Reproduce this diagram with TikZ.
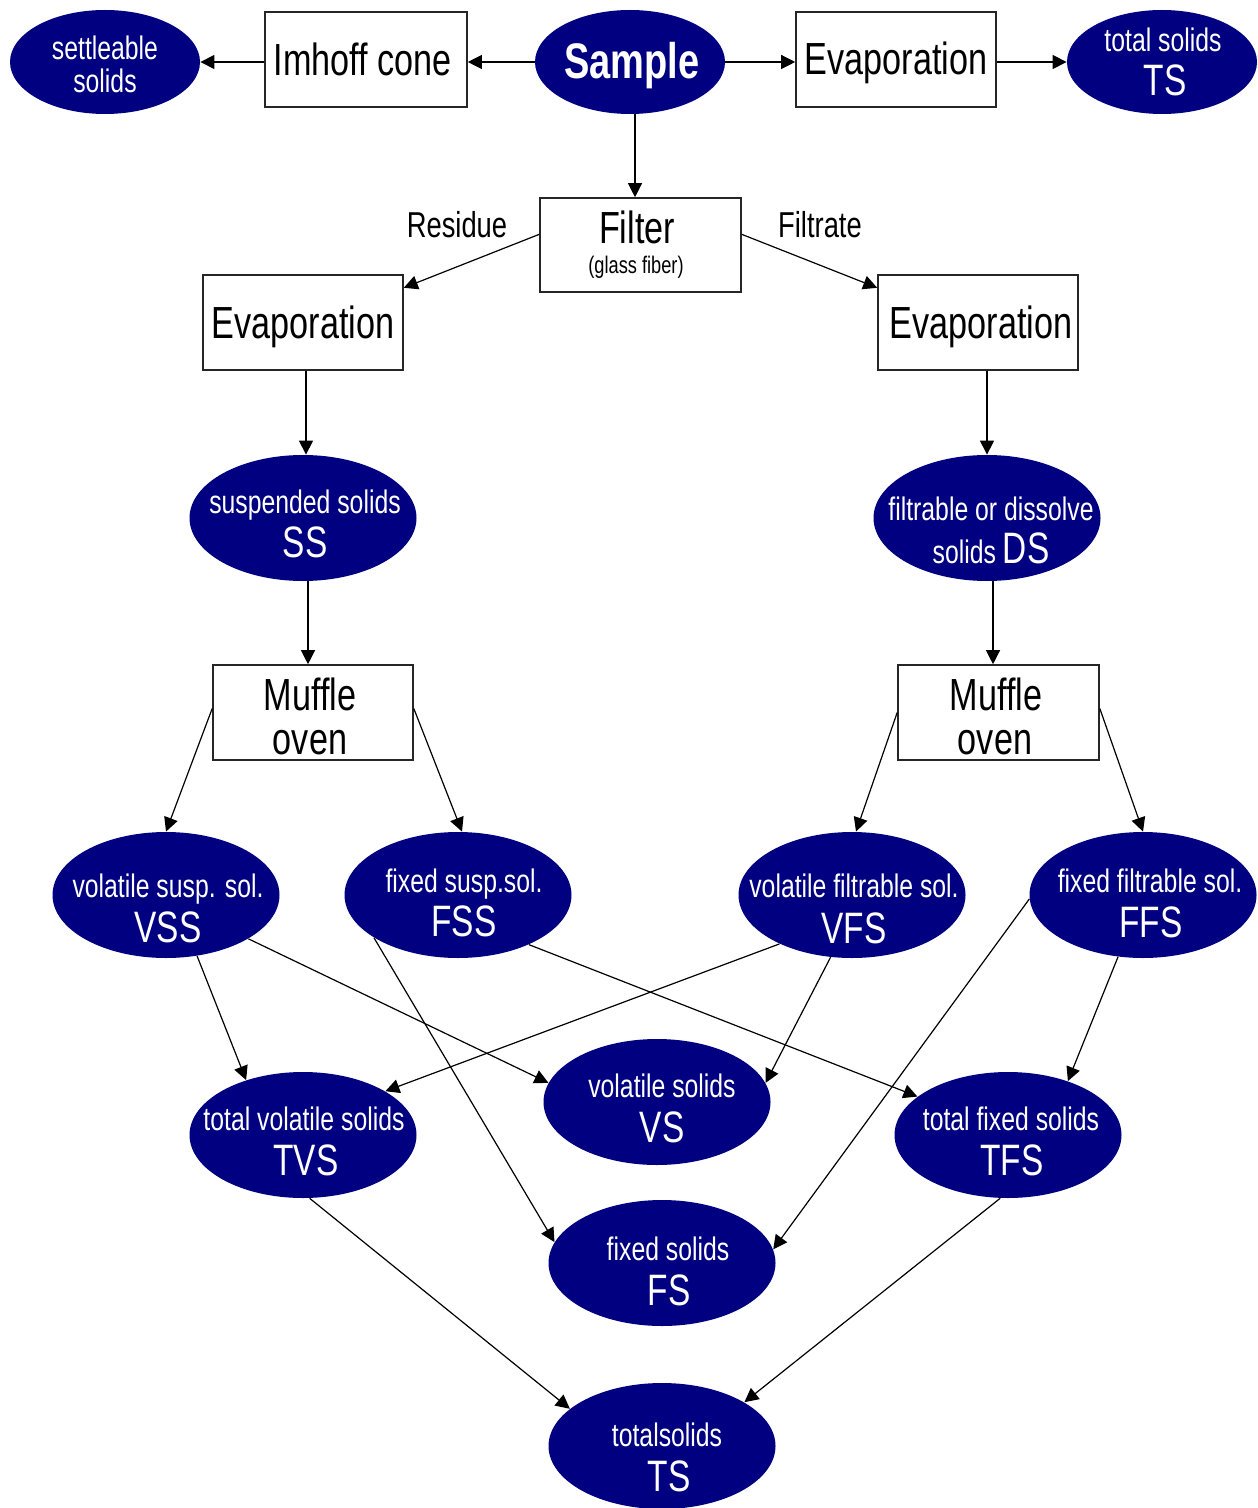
\documentclass[tikz,border=0pt]{standalone}
\usepackage{fontspec}
\setmainfont{Liberation Sans}[FakeStretch=0.76]
\usetikzlibrary{shapes.geometric,arrows.meta}
\definecolor{navyc}{RGB}{0,0,128}
\begin{document}
\begin{tikzpicture}[x=0.5pt,y=-0.5pt,
  ell/.style={ellipse, fill=navyc, draw=none, inner sep=0pt, minimum width=113.5pt, minimum height=63pt},
  sell/.style={ellipse, fill=navyc, draw=none, inner sep=0pt, minimum width=95pt, minimum height=52pt},
  boxnode/.style={rectangle, draw=black!85, line width=0.8pt, fill=white, inner sep=0pt, minimum width=100pt, minimum height=47.5pt},
  etsm/.style={anchor=base, inner sep=0pt, text=white, font=\fontsize{16.3}{18}\selectfont},
  etbg/.style={anchor=base, inner sep=0pt, text=white, font=\fontsize{22}{24}\selectfont},
  btxt/.style={anchor=base, inner sep=0pt, text=black, font=\fontsize{22.5}{25}\selectfont},
  side/.style={anchor=base, inner sep=0pt, text=black, font=\fontsize{18}{20}\selectfont},
  arr/.style={-{Triangle[length=7pt,width=7pt]}, line width=0.6pt, black},
]
\useasboundingbox (0,0) rectangle (1257,1508);
% ellipses
\node[sell] (set) at (105,62) {};
\node[sell] (sample) at (630,62) {};
\node[sell] (ts1) at (1162,62) {};
\node[ell] (ss) at (303,518) {};
\node[ell] (ds) at (987,518) {};
\node[ell] (vss) at (166,895) {};
\node[ell] (fss) at (458,895) {};
\node[ell] (vfs) at (852,895) {};
\node[ell] (ffs) at (1143,895) {};
\node[ell] (tvs) at (303,1135) {};
\node[ell] (vs) at (657,1102) {};
\node[ell] (tfs) at (1008,1135) {};
\node[ell] (fs) at (662,1263) {};
\node[ell] (ts2) at (662,1446) {};
% boxes
\node[boxnode, minimum width=101pt] (imh) at (366,59.5) {};
\node[boxnode] (evT) at (896,59.5) {};
\node[boxnode, minimum width=100.5pt, minimum height=47pt] (filt) at (640.5,245) {};
\node[boxnode] (evL) at (303,322.5) {};
\node[boxnode] (evR) at (978,322.5) {};
\node[boxnode] (mufL) at (313,712.5) {};
\node[boxnode, minimum width=100.5pt] (mufR) at (998.5,712.5) {};
% texts in ellipses
\node[etsm] (set-a) at (105,60) {settleable};
\node[etsm] (set-b) at (105,93) {solids};
\node[anchor=base, inner sep=0pt, text=white, font=\fontsize{25}{27}\selectfont\bfseries] (sample-a) at (632,79) {Sample};
\node[etsm] (ts1-a) at (1163,52) {total solids};
\node[etbg] (ts1-b) at (1165,96) {TS};
\node[etsm] (ss-a) at (305,513) {suspended solids};
\node[etbg] (ss-b) at (305,557) {SS};
\node[etsm] (ds-a) at (991,520) {filtrable or dissolve};
\node[anchor=base, inner sep=0pt, text=white] (ds-b) at (991,563) {{\fontsize{16.3}{18}\selectfont solids }{\fontsize{22}{24}\selectfont DS}};
\node[etsm] (vss-a) at (168,897) {volatile susp. sol.};
\node[etbg] (vss-b) at (168,942) {VSS};
\node[etsm] (fss-a) at (464,892) {fixed susp.sol.};
\node[etbg] (fss-b) at (464,936) {FSS};
\node[etsm] (vfs-a) at (854,897) {volatile filtrable sol.};
\node[etbg] (vfs-b) at (854,943) {VFS};
\node[etsm] (ffs-a) at (1150,892) {fixed filtrable sol.};
\node[etbg] (ffs-b) at (1151,937) {FFS};
\node[etsm] (tvs-a) at (304,1130) {total volatile solids};
\node[etbg] (tvs-b) at (306,1175) {TVS};
\node[etsm] (vs-a) at (662,1097) {volatile solids};
\node[etbg] (vs-b) at (662,1142) {VS};
\node[etsm] (tfs-a) at (1011,1130) {total fixed solids};
\node[etbg] (tfs-b) at (1012,1175) {TFS};
\node[etsm] (fs-a) at (668,1260) {fixed solids};
\node[etbg] (fs-b) at (669,1305) {FS};
\node[etsm] (ts2-a) at (667,1446) {totalsolids};
\node[etbg] (ts2-b) at (669,1491) {TS};
% texts in boxes
\node[btxt] (imh-t) at (363,76) {Imhoff cone};
\node[btxt] (evT-t) at (896,75) {Evaporation};
\node[btxt] (filt-t) at (637,244) {Filter};
\node[anchor=base, inner sep=0pt, font=\fontsize{12}{14}\selectfont] (filt-s) at (636,274) {(glass fiber)};
\node[btxt] (evL-t) at (303,338) {Evaporation};
\node[btxt] (evR-t) at (981,338) {Evaporation};
\node[btxt] (mufL-a) at (310,710) {Muffle};
\node[btxt] (mufL-b) at (310,754) {oven};
\node[btxt] (mufR-a) at (996,710) {Muffle};
\node[btxt] (mufR-b) at (995,754) {oven};
\node[side] (res) at (457,238) {Residue};
\node[side] (fil) at (820,238) {Filtrate};
% connectors
\draw[arr] (sample.west) -- (sample.west -| imh.east);
\draw[arr] (set.east -| imh.west) -- (set.east);
\draw[arr] (sample.east) -- (sample.east -| evT.west);
\draw[arr] (ts1.west -| evT.east) -- (ts1.west);
\draw[arr] ([xshift=2.5pt]sample.south) -- ([xshift=2.5pt]sample.south |- filt.north);
\draw[arr] (filt.174) -- (evL.19);
\draw[arr] (filt.6) -- (evR.161);
\draw[arr] ([xshift=1.5pt]evL.south) -- ([xshift=1.5pt]evL.south |- ss.north);
\draw[arr] (ds.north |- evR.south) -- (ds.north);
\draw[arr] ([xshift=2.5pt]ss.south) -- ([xshift=2.5pt]ss.south |- mufL.north);
\draw[arr] ([xshift=3pt]ds.south) -- ([xshift=3pt]ds.south |- mufR.north);
\draw[arr] ([yshift=2pt]mufL.west) -- (vss.north);
\draw[arr] ([yshift=2pt]mufL.east) -- ([xshift=2pt]fss.north);
\draw[arr] (mufR.west) -- ([xshift=2pt]vfs.north);
\draw[arr] ([yshift=2pt]mufR.east) -- (ffs.north);
\draw[arr] (vss.-63) -- (tvs.136);
\draw[arr] (vss.-28) -- (vs.170);
\draw[arr] (fss.207) -- (fs.169);
\draw[arr] (fss.-35) -- (tfs.157);
\draw[arr] (vfs.214) -- (tvs.28);
\draw[arr] (vfs.251) -- (vs.10);
\draw[arr] (ffs.182) -- (fs.7);
\draw[arr] (ffs.248) -- (tfs.42);
\draw[arr] (tvs.-84) -- (ts2.158);
\draw[arr] (tfs.263) -- (ts2.28);
\end{tikzpicture}
\end{document}
